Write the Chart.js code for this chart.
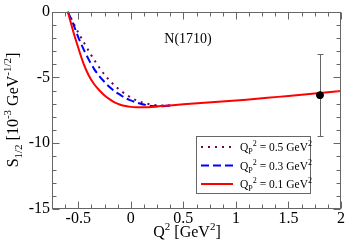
<!DOCTYPE html>
<html>
<head>
<meta charset="utf-8">
<script src="https://cdn.jsdelivr.net/npm/chart.js@4.4.0/dist/chart.umd.min.js"></script>
<style>
html, body { margin: 0; padding: 0; background: #fff; }
#wrap { width: 346px; height: 247px; }
</style>
</head>
<body>
<div id="wrap"><canvas id="grafico" width="346" height="247"></canvas></div>
<script>
// Curva Qp^2 = 0.1 GeV^2 (roja)
const q01 = [-0.6, -0.55, -0.5, -0.45, -0.4, -0.35, -0.3, -0.25, -0.2, -0.15, -0.1, -0.05, 0, 0.05, 0.1, 0.2, 0.4, 0.6, 0.8, 1.0, 1.2, 1.4, 1.6, 1.8, 2.0];
const s01 = [0, -1.45, -2.75, -3.95, -4.85, -5.5, -5.98, -6.37, -6.67, -6.92, -7.08, -7.18, -7.24, -7.27, -7.27, -7.24, -7.11, -6.99, -6.87, -6.76, -6.62, -6.48, -6.34, -6.19, -6.03];

// Curva Qp^2 = 0.3 GeV^2 (azul, rayada)
const q03 = [-0.6, -0.55, -0.5, -0.45, -0.4, -0.35, -0.3, -0.25, -0.2, -0.15, -0.1, -0.05, 0, 0.05, 0.1, 0.15, 0.2, 0.25, 0.3, 0.4];
const s03 = [0, -0.9, -1.95, -2.85, -3.65, -4.35, -4.9, -5.35, -5.75, -6.08, -6.33, -6.58, -6.75, -6.9, -7.02, -7.1, -7.17, -7.2, -7.2, -7.11];

// Curva Qp^2 = 0.5 GeV^2 (morada, punteada)
const q05 = [-0.6, -0.55, -0.5, -0.45, -0.4, -0.35, -0.3, -0.25, -0.2, -0.15, -0.1, -0.05, 0, 0.05, 0.1, 0.15, 0.2, 0.25, 0.3, 0.35, 0.4];
const s05 = [0, -0.8, -1.6, -2.3, -3.0, -3.65, -4.25, -4.8, -5.25, -5.65, -5.98, -6.28, -6.53, -6.73, -6.88, -6.99, -7.07, -7.12, -7.14, -7.14, -7.11];

// Dato experimental
const qExp = [1.8];
const sExp = [-6.35];
const errExp = [3.1];

// Ejes
const xTicks = [-0.5, 0, 0.5, 1, 1.5, 2];
const yTicks = [0, -5, -10, -15];
const etiquetasLeyenda = ["0.5", "0.3", "0.1"];

const fuente = "'Liberation Serif', 'Times New Roman', serif";

function puntos(qs, ss) {
    return qs.map((q, i) => ({ x: q, y: ss[i] }));
}

// Dibuja texto con subíndices/superíndices: partes = [texto, tamaño, desplazamiento]
function textoRico(ctx, partes, x, y, centrado) {
    let ancho = 0;
    partes.forEach(p => {
        ctx.font = p[1] + "px " + fuente;
        ancho += ctx.measureText(p[0]).width;
    });
    let cx = centrado ? x - ancho / 2 : x;
    partes.forEach(p => {
        ctx.font = p[1] + "px " + fuente;
        ctx.fillText(p[0], cx, y + p[2]);
        cx += ctx.measureText(p[0]).width;
    });
}

const marco = {
    id: "marco",
    beforeDatasetsDraw(chart) {
        // barra de error
        const { ctx, scales: { x, y } } = chart;
        ctx.save();
        ctx.strokeStyle = "#666";
        ctx.lineWidth = 1;
        qExp.forEach((q, i) => {
            const px = Math.round(x.getPixelForValue(q)) + 0.5;
            const y1 = y.getPixelForValue(sExp[i] + errExp[i]);
            const y2 = y.getPixelForValue(sExp[i] - errExp[i]);
            ctx.beginPath();
            ctx.moveTo(px, y1); ctx.lineTo(px, y2);
            ctx.moveTo(px - 3, Math.round(y1) + 0.5); ctx.lineTo(px + 3, Math.round(y1) + 0.5);
            ctx.moveTo(px - 3, Math.round(y2) + 0.5); ctx.lineTo(px + 3, Math.round(y2) + 0.5);
            ctx.stroke();
        });
        ctx.restore();
    },
    afterDraw(chart) {
        const { ctx, chartArea: a, scales: { x, y } } = chart;
        ctx.save();
        ctx.strokeStyle = "#666";
        ctx.lineWidth = 1;
        const l = Math.round(a.left) + 0.5, r = Math.round(a.right) - 0.5;
        const t = Math.round(a.top) + 0.5, b = Math.round(a.bottom) - 0.5;
        ctx.strokeRect(l, t, r - l, b - t);

        // marcas hacia dentro
        ctx.beginPath();
        for (let v = -0.75; v <= 2.0001; v += 0.125) {
            const mayor = Math.abs(v * 2 - Math.round(v * 2)) < 1e-6;
            const len = mayor ? 7 : 4;
            const px = Math.round(x.getPixelForValue(v)) + 0.5;
            ctx.moveTo(px, b); ctx.lineTo(px, b - len);
            ctx.moveTo(px, t); ctx.lineTo(px, t + len);
        }
        for (let v = -15; v <= 0; v += 1) {
            const len = v % 5 === 0 ? 7 : 4;
            const py = Math.round(y.getPixelForValue(v)) + 0.5;
            ctx.moveTo(l, py); ctx.lineTo(l + len, py);
            ctx.moveTo(r, py); ctx.lineTo(r - len, py);
        }
        ctx.stroke();

        // título interior
        ctx.fillStyle = "#000";
        ctx.textBaseline = "alphabetic";
        textoRico(ctx, [["N(1710)", 14, 0]], 188, 43, true);

        // título eje x
        textoRico(ctx, [["Q", 16, 0], ["2", 11, -7], [" [GeV", 16, 0], ["2", 11, -7], ["]", 16, 0]], 187, 237, true);

        // título eje y (rotado)
        ctx.save();
        ctx.translate(18, 110);
        ctx.rotate(-Math.PI / 2);
        textoRico(ctx, [["S", 16, 0], ["1/2", 11, 4], [" [10", 16, 0], ["-3", 11, -7], [" GeV", 16, 0], ["-1/2", 11, -7], ["]", 16, 0]], 0, 0, true);
        ctx.restore();

        // leyenda
        ctx.strokeStyle = "#666";
        ctx.strokeRect(196.5, 136.5, 114, 57);
        const orden = [2, 1, 0];
        orden.forEach((di, k) => {
            const ds = chart.data.datasets[di];
            const ly = 147 + k * 18.5;
            ctx.save();
            ctx.strokeStyle = ds.borderColor;
            ctx.lineWidth = ds.borderWidth;
            ctx.setLineDash(ds.borderDash || []);
            ctx.beginPath();
            ctx.moveTo(201, ly); ctx.lineTo(233, ly);
            ctx.stroke();
            ctx.restore();
            textoRico(ctx, [["Q", 11.5, 0], ["P", 8, 3], ["2", 8, -5], [" = " + etiquetasLeyenda[k] + " GeV", 11.5, 0], ["2", 8, -5]], 240, ly + 4, false);
        });
        ctx.restore();
    }
};

const ctx = document.getElementById("grafico").getContext("2d");

new Chart(ctx, {
    type: "scatter",
    data: {
        datasets: [
            {
                label: "0.1",
                data: puntos(q01, s01),
                showLine: true,
                borderColor: "rgb(255,0,0)",
                borderWidth: 2,
                pointRadius: 0,
                tension: 0.3,
                order: 1
            },
            {
                label: "0.3",
                data: puntos(q03, s03),
                showLine: true,
                borderColor: "rgb(0,0,255)",
                borderWidth: 2,
                borderDash: [8, 4],
                pointRadius: 0,
                tension: 0.3,
                order: 2
            },
            {
                label: "0.5",
                data: puntos(q05, s05),
                showLine: true,
                borderColor: "rgb(103,7,72)",
                borderWidth: 2,
                borderDash: [2, 5],
                pointRadius: 0,
                tension: 0.3,
                order: 3
            },
            {
                label: "exp",
                data: puntos(qExp, sExp),
                showLine: false,
                pointRadius: 3.5,
                pointBackgroundColor: "#000",
                pointBorderColor: "#000",
                order: 0
            }
        ]
    },
    options: {
        responsive: false,
        animation: false,
        devicePixelRatio: 1,
        layout: { padding: { left: 0, right: 5, top: 5, bottom: 0 } },
        plugins: {
            legend: { display: false },
            tooltip: { enabled: false }
        },
        scales: {
            x: {
                type: "linear",
                min: -0.75,
                max: 2,
                grid: { display: false, drawTicks: false },
                border: { display: false },
                afterBuildTicks: s => { s.ticks = xTicks.map(v => ({ value: v })); },
                afterFit: s => { s.height = 38; },
                ticks: {
                    padding: 0,
                    color: "#000",
                    maxRotation: 0,
                    autoSkip: false,
                    callback: v => String(v),
                    font: { family: fuente, size: 16 }
                }
            },
            y: {
                type: "linear",
                min: -15,
                max: 0,
                grid: { display: false, drawTicks: false },
                border: { display: false },
                afterBuildTicks: s => { s.ticks = yTicks.map(v => ({ value: v })); },
                afterFit: s => { s.width = 52; },
                ticks: {
                    padding: 2,
                    color: "#000",
                    autoSkip: false,
                    callback: v => String(v),
                    font: { family: fuente, size: 16 }
                }
            }
        }
    },
    plugins: [marco]
});
</script>
</body>
</html>
